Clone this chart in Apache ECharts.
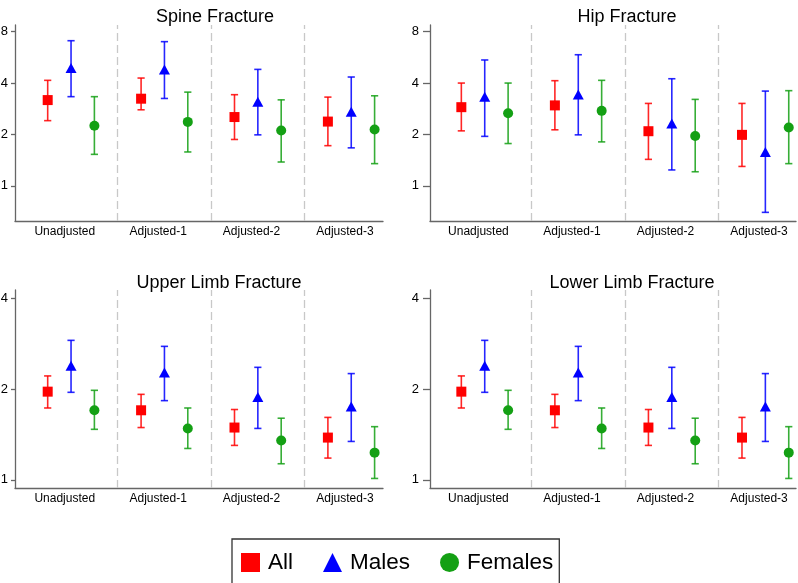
<!DOCTYPE html>
<html>
<head>
<meta charset="utf-8">
<script src="https://cdn.jsdelivr.net/npm/echarts@6/dist/echarts.min.js"></script>
<style>html,body{margin:0;padding:0;background:#fff}#c{width:798px;height:583px}</style>
</head>
<body>
<div id="c"></div>
<script>
// ---------- data ----------
var categories = ['Unadjusted', 'Adjusted-1', 'Adjusted-2', 'Adjusted-3'];
var seriesNames = ['All', 'Males', 'Females'];
var panelTitles = ['Spine Fracture', 'Hip Fracture', 'Upper Limb Fracture', 'Lower Limb Fracture'];
var ticksTop = [1, 2, 4, 8];
var ticksBottom = [1, 2, 4];

// Spine
var spineAll      = [3.18, 3.24, 2.53, 2.38];
var spineAllLo    = [2.41, 2.79, 1.87, 1.72];
var spineAllHi    = [4.15, 4.28, 3.42, 3.31];
var spineMale     = [4.90, 4.81, 3.11, 2.72];
var spineMaleLo   = [3.33, 3.25, 1.99, 1.67];
var spineMaleHi   = [7.08, 6.99, 4.81, 4.34];
var spineFemale   = [2.25, 2.37, 2.11, 2.14];
var spineFemaleLo = [1.53, 1.58, 1.38, 1.35];
var spineFemaleHi = [3.33, 3.54, 3.19, 3.37];

// Hip
var hipAll      = [2.89, 2.96, 2.09, 1.99];
var hipAllLo    = [2.10, 2.13, 1.43, 1.30];
var hipAllHi    = [4.00, 4.13, 3.04, 3.04];
var hipMale     = [3.33, 3.43, 2.32, 1.58];
var hipMaleLo   = [1.95, 1.99, 1.24, 0.70];
var hipMaleHi   = [5.46, 5.86, 4.24, 3.59];
var hipFemale   = [2.66, 2.75, 1.96, 2.20];
var hipFemaleLo = [1.77, 1.81, 1.21, 1.35];
var hipFemaleHi = [4.00, 4.15, 3.21, 3.61];

// Upper limb
var upperAll      = [1.96, 1.70, 1.49, 1.38];
var upperAllLo    = [1.73, 1.49, 1.30, 1.18];
var upperAllHi    = [2.21, 1.92, 1.71, 1.61];
var upperMale     = [2.39, 2.27, 1.88, 1.75];
var upperMaleLo   = [1.95, 1.83, 1.48, 1.34];
var upperMaleHi   = [2.90, 2.77, 2.36, 2.25];
var upperFemale   = [1.70, 1.48, 1.35, 1.23];
var upperFemaleLo = [1.47, 1.27, 1.13, 1.01];
var upperFemaleHi = [1.98, 1.73, 1.60, 1.50];

// Lower limb
var lowerAll      = [1.96, 1.70, 1.49, 1.38];
var lowerAllLo    = [1.73, 1.49, 1.30, 1.18];
var lowerAllHi    = [2.21, 1.92, 1.71, 1.61];
var lowerMale     = [2.39, 2.27, 1.88, 1.75];
var lowerMaleLo   = [1.95, 1.83, 1.48, 1.34];
var lowerMaleHi   = [2.90, 2.77, 2.36, 2.25];
var lowerFemale   = [1.70, 1.48, 1.35, 1.23];
var lowerFemaleLo = [1.47, 1.27, 1.13, 1.01];
var lowerFemaleHi = [1.98, 1.73, 1.60, 1.50];

// ---------- layout / styles ----------
var FONT = '"Liberation Sans", Arial, sans-serif';
var colors = ['#ff0000', '#0000ff', '#14a014'];
var symbols = ['rect', 'triangle', 'circle'];
var symbolSizes = [[10, 10], [11, 10], [10, 10]];
var offsets = [-1, 0, 1];

var panels = [
  {title: panelTitles[0], vals: [[spineAll, spineAllLo, spineAllHi], [spineMale, spineMaleLo, spineMaleHi], [spineFemale, spineFemaleLo, spineFemaleHi]],
   grid: {left: 15, top: 25, width: 368, height: 196}, ymin: 0.623, ymax: 8.75, ticks: ticksTop, xmin: -2.4, xmax: 13.36, titleX: 210, titleY: 12, tickLen: 4, labMargin: 7},
  {title: panelTitles[1], vals: [[hipAll, hipAllLo, hipAllHi], [hipMale, hipMaleLo, hipMaleHi], [hipFemale, hipFemaleLo, hipFemaleHi]],
   grid: {left: 430, top: 25, width: 366, height: 196}, ymin: 0.623, ymax: 8.75, ticks: ticksTop, xmin: -2.34, xmax: 13.31, titleX: 622, titleY: 12, tickLen: 7, labMargin: 11},
  {title: panelTitles[2], vals: [[upperAll, upperAllLo, upperAllHi], [upperMale, upperMaleLo, upperMaleHi], [upperFemale, upperFemaleLo, upperFemaleHi]],
   grid: {left: 15, top: 290, width: 368, height: 198}, ymin: 0.939, ymax: 4.26, ticks: ticksBottom, xmin: -2.4, xmax: 13.36, titleX: 214, titleY: 278, tickLen: 4, labMargin: 7},
  {title: panelTitles[3], vals: [[lowerAll, lowerAllLo, lowerAllHi], [lowerMale, lowerMaleLo, lowerMaleHi], [lowerFemale, lowerFemaleLo, lowerFemaleHi]],
   grid: {left: 430, top: 290, width: 366, height: 198}, ymin: 0.939, ymax: 4.26, ticks: ticksBottom, xmin: -2.34, xmax: 13.31, titleX: 627, titleY: 278, tickLen: 7, labMargin: 11}
];

var labelPos = categories.map(function (c, i) { return 4 * i - 0.27; });

var option = {
  animation: false,
  backgroundColor: '#fff',
  title: [],
  grid: [],
  xAxis: [],
  yAxis: [],
  series: [],
  legend: {
    left: 232, top: 539,
    padding: [12, 6, 12, 9],
    borderColor: '#333', borderWidth: 1.3, borderRadius: 0,
    itemWidth: 19, itemHeight: 19, itemGap: 30,
    textStyle: {fontFamily: FONT, fontSize: 22.5, color: '#000', padding: [0, 0, 0, 3]},
    data: seriesNames.map(function (n, k) { return {name: n, icon: symbols[k]}; })
  }
};

panels.forEach(function (p, pi) {
  option.title.push({
    text: p.title, left: p.titleX, top: p.titleY, textAlign: 'center', textVerticalAlign: 'middle',
    textStyle: {fontFamily: FONT, fontSize: 18, fontWeight: 'normal', color: '#000'}
  });
  var g = Object.assign({containLabel: false, outerBoundsMode: 'none'}, p.grid);
  option.grid.push(g);
  option.xAxis.push({
    type: 'value', gridIndex: pi, min: p.xmin, max: p.xmax,
    axisLine: {show: true, onZero: false, lineStyle: {color: '#666', width: 1.3}},
    axisTick: {show: false},
    splitLine: {show: false},
    axisLabel: {
      customValues: labelPos, margin: 5,
      fontFamily: FONT, fontSize: 12, color: '#000',
      formatter: function (v) { return categories[Math.round((v + 0.27) / 4)]; }
    }
  });
  option.yAxis.push({
    type: 'log', logBase: 2, gridIndex: pi, min: p.ymin, max: p.ymax,
    axisLine: {show: true, onZero: false, lineStyle: {color: '#666', width: 1.3}},
    axisTick: {show: true, customValues: p.ticks, length: p.tickLen, lineStyle: {color: '#666', width: 1.3}},
    splitLine: {show: false},
    axisLabel: {customValues: p.ticks, margin: p.labMargin, fontFamily: FONT, fontSize: 13, color: '#000',
      formatter: function (v) { return String(Math.round(v)); }}
  });

  p.vals.forEach(function (trip, k) {
    var est = trip[0], lo = trip[1], hi = trip[2];
    var barData = est.map(function (v, i) { return [4 * i + offsets[k], lo[i], hi[i]]; });
    option.series.push({
      type: 'custom', xAxisIndex: pi, yAxisIndex: pi, silent: true, z: 2,
      encode: {x: 0, y: [1, 2]},
      data: barData,
      renderItem: function (params, api) {
        var x = api.value(0);
        var a = api.coord([x, api.value(1)]);
        var b = api.coord([x, api.value(2)]);
        var cw = 3.6;
        var st = {stroke: colors[k], lineWidth: 1.6, opacity: 0.85};
        return {type: 'group', children: [
          {type: 'line', shape: {x1: a[0], y1: a[1], x2: b[0], y2: b[1]}, style: st},
          {type: 'line', shape: {x1: a[0] - cw, y1: a[1], x2: a[0] + cw, y2: a[1]}, style: st},
          {type: 'line', shape: {x1: b[0] - cw, y1: b[1], x2: b[0] + cw, y2: b[1]}, style: st}
        ]};
      }
    });
    var s = {
      type: 'scatter', name: seriesNames[k], xAxisIndex: pi, yAxisIndex: pi, z: 5,
      symbol: symbols[k], symbolSize: symbolSizes[k],
      itemStyle: {color: colors[k], opacity: 1},
      data: est.map(function (v, i) { return [4 * i + offsets[k], v]; })
    };
    if (k === 0) {
      s.markLine = {
        silent: true, symbol: 'none', label: {show: false}, animation: false,
        lineStyle: {color: '#c8c8c8', type: [8, 4], width: 1.3},
        data: [{xAxis: 2}, {xAxis: 6}, {xAxis: 10}]
      };
    }
    option.series.push(s);
  });
});

var chart = echarts.init(document.getElementById('c'), null, {renderer: 'canvas'});
chart.setOption(option);
</script>
</body>
</html>
